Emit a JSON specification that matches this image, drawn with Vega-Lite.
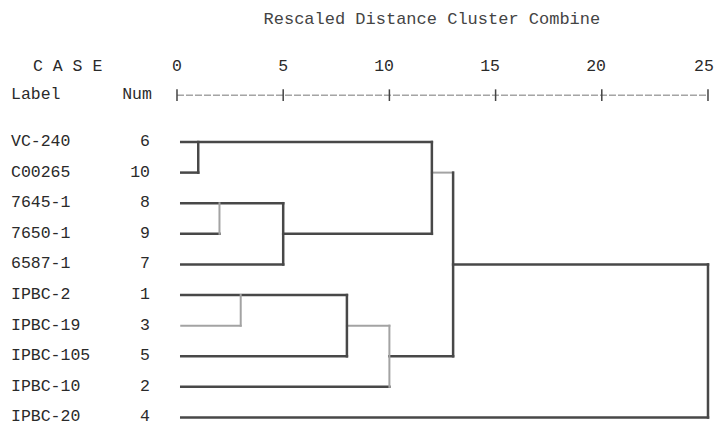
{
  "$schema": "https://vega.github.io/schema/vega-lite/v6.json",
  "width": 715,
  "height": 427,
  "autosize": "none",
  "padding": 0,
  "background": "white",
  "config": {"view": {"stroke": null}},
  "datasets": {
    "segs": [
      {"id": "h1", "x": 0.2, "x2": 12.0, "y": 0, "y2": 0},
      {"id": "h2", "x": 0.2, "x2": 1.0, "y": 1, "y2": 1},
      {"id": "h3", "x": 0.2, "x2": 5.0, "y": 2, "y2": 2},
      {"id": "h4", "x": 0.2, "x2": 2.0, "y": 3, "y2": 3},
      {"id": "h5", "x": 0.2, "x2": 5.0, "y": 4, "y2": 4},
      {"id": "h6", "x": 5.0, "x2": 12.0, "y": 3, "y2": 3},
      {"id": "h7", "x": 12.0, "x2": 13.0, "y": 1, "y2": 1},
      {"id": "h8", "x": 0.2, "x2": 8.0, "y": 5, "y2": 5},
      {"id": "h9", "x": 0.2, "x2": 3.0, "y": 6, "y2": 6},
      {"id": "h10", "x": 0.2, "x2": 8.0, "y": 7, "y2": 7},
      {"id": "h11", "x": 8.0, "x2": 10.0, "y": 6, "y2": 6},
      {"id": "h12", "x": 0.2, "x2": 10.0, "y": 8, "y2": 8},
      {"id": "h13", "x": 10.0, "x2": 13.0, "y": 7, "y2": 7},
      {"id": "h14", "x": 13.0, "x2": 25.0, "y": 4, "y2": 4},
      {"id": "h15", "x": 0.2, "x2": 25.0, "y": 9, "y2": 9},
      {"id": "v1", "x": 1.0, "x2": 1.0, "y": 0, "y2": 1},
      {"id": "v2", "x": 2.0, "x2": 2.0, "y": 2, "y2": 3},
      {"id": "v3", "x": 5.0, "x2": 5.0, "y": 2, "y2": 4},
      {"id": "v4", "x": 12.0, "x2": 12.0, "y": 0, "y2": 3},
      {"id": "v5", "x": 3.0, "x2": 3.0, "y": 5, "y2": 6},
      {"id": "v6", "x": 8.0, "x2": 8.0, "y": 5, "y2": 7},
      {"id": "v7", "x": 10.0, "x2": 10.0, "y": 6, "y2": 8},
      {"id": "v8", "x": 13.0, "x2": 13.0, "y": 1, "y2": 7},
      {"id": "v9", "x": 25.0, "x2": 25.0, "y": 4, "y2": 9}
    ],
    "cases": [
      {"label": "VC-240", "num": "6", "row": 0},
      {"label": "C00265", "num": "10", "row": 1},
      {"label": "7645-1", "num": "8", "row": 2},
      {"label": "7650-1", "num": "9", "row": 3},
      {"label": "6587-1", "num": "7", "row": 4},
      {"label": "IPBC-2", "num": "1", "row": 5},
      {"label": "IPBC-19", "num": "3", "row": 6},
      {"label": "IPBC-105", "num": "5", "row": 7},
      {"label": "IPBC-10", "num": "2", "row": 8},
      {"label": "IPBC-20", "num": "4", "row": 9}
    ],
    "ticks": [
      {"v": 0, "lx": 0, "t": "0"},
      {"v": 5, "lx": 5, "t": "5"},
      {"v": 10, "lx": 9.75, "t": "10"},
      {"v": 15, "lx": 14.74, "t": "15"},
      {"v": 20, "lx": 19.73, "t": "20"},
      {"v": 25, "lx": 24.81, "t": "25"}
    ]
  },
  "layer": [
    {
      "data": {"name": "segs"},
      "mark": {"type": "rule", "strokeCap": "square"},
      "encoding": {
        "x": {"field": "x", "type": "quantitative", "scale": {"domain": [-8.333, 25.33], "nice": false, "zero": false}, "axis": null},
        "x2": {"field": "x2"},
        "y": {"field": "y", "type": "quantitative", "scale": {"domain": [-4.639, 9.311], "reverse": true, "nice": false, "zero": false}, "axis": null},
        "y2": {"field": "y2"},
        "color": {
          "condition": {"test": "indexof(['h7','h9','h11','v2','v5','v7'], datum.id) >= 0", "value": "#a3a3a3"},
          "value": "#484848"
        },
        "strokeWidth": {
          "condition": {"test": "indexof(['h7','h9','h11','v2','v5','v7'], datum.id) >= 0", "value": 2},
          "value": 2.5
        }
      }
    },
    {
      "data": {"name": "cases"},
      "mark": {"type": "text", "align": "left", "baseline": "middle", "font": "Liberation Mono", "fontSize": 16.5, "color": "#2a2a2a", "dy": -1},
      "encoding": {
        "x": {"datum": -7.815, "type": "quantitative"},
        "y": {"field": "row", "type": "quantitative"},
        "text": {"field": "label"}
      }
    },
    {
      "data": {"name": "cases"},
      "mark": {"type": "text", "align": "right", "baseline": "middle", "font": "Liberation Mono", "fontSize": 16.5, "color": "#2a2a2a", "dy": -1},
      "encoding": {
        "x": {"datum": -1.27, "type": "quantitative"},
        "y": {"field": "row", "type": "quantitative"},
        "text": {"field": "num"}
      }
    },
    {
      "data": {"name": "ticks"},
      "mark": {"type": "text", "align": "center", "baseline": "middle", "font": "Liberation Mono", "fontSize": 16.5, "color": "#2a2a2a"},
      "encoding": {
        "x": {"field": "lx", "type": "quantitative"},
        "y": {"datum": -2.47, "type": "quantitative"},
        "text": {"field": "t"}
      }
    },
    {
      "data": {"values": [{"a": 0, "b": 25}]},
      "mark": {"type": "rule", "color": "#777", "strokeWidth": 1, "strokeDash": [7, 2]},
      "encoding": {
        "x": {"field": "a", "type": "quantitative"},
        "x2": {"field": "b"},
        "y": {"datum": -1.53, "type": "quantitative"}
      }
    },
    {
      "data": {"name": "ticks"},
      "mark": {"type": "rule", "color": "#444", "strokeWidth": 1.5},
      "encoding": {
        "x": {"field": "v", "type": "quantitative"},
        "y": {"datum": -1.72, "type": "quantitative"},
        "y2": {"datum": -1.34}
      }
    },
    {
      "data": {"values": [{}]},
      "mark": {"type": "text", "align": "center", "baseline": "middle", "font": "Liberation Mono", "fontSize": 17, "color": "#444"},
      "encoding": {
        "x": {"datum": 12.0, "type": "quantitative"},
        "y": {"datum": -4.03, "type": "quantitative"},
        "text": {"value": "Rescaled Distance Cluster Combine"}
      }
    },
    {
      "data": {"values": [{}]},
      "mark": {"type": "text", "align": "left", "baseline": "middle", "font": "Liberation Mono", "fontSize": 16.5, "color": "#2a2a2a"},
      "encoding": {
        "x": {"datum": -6.78, "type": "quantitative"},
        "y": {"datum": -2.47, "type": "quantitative"},
        "text": {"value": "C A S E"}
      }
    },
    {
      "data": {"values": [{}]},
      "mark": {"type": "text", "align": "left", "baseline": "middle", "font": "Liberation Mono", "fontSize": 16.5, "color": "#2a2a2a"},
      "encoding": {
        "x": {"datum": -7.815, "type": "quantitative"},
        "y": {"datum": -1.56, "type": "quantitative"},
        "text": {"value": "Label"}
      }
    },
    {
      "data": {"values": [{}]},
      "mark": {"type": "text", "align": "right", "baseline": "middle", "font": "Liberation Mono", "fontSize": 16.5, "color": "#2a2a2a"},
      "encoding": {
        "x": {"datum": -1.18, "type": "quantitative"},
        "y": {"datum": -1.56, "type": "quantitative"},
        "text": {"value": "Num"}
      }
    }
  ]
}
